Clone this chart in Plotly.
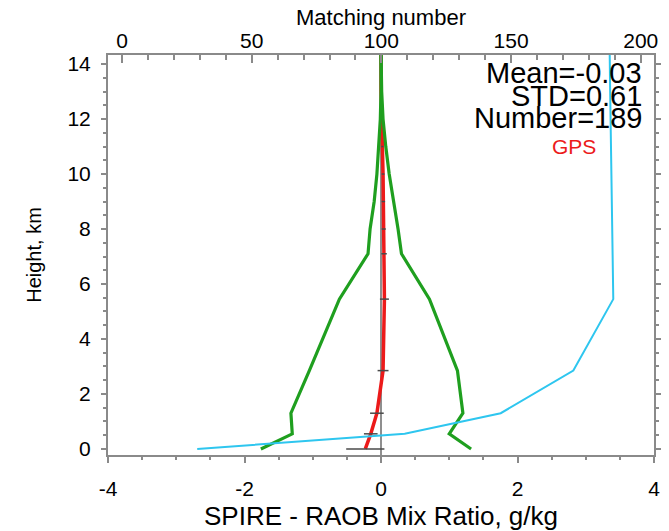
import plotly.graph_objects as go

# ---- data ----
height_km = [0, 0.55, 1.3, 2.85, 5.45, 7.1, 8, 9, 10, 11, 12, 13, 14.5]
mean_diff = [-0.23, -0.15, -0.06, 0.03, 0.05, 0.045, 0.04, 0.035, 0.03, 0.02, 0.01, 0.0, 0.0]
std_low = [-1.76, -1.30, -1.32, -1.05, -0.61, -0.19, -0.16, -0.10, -0.06, -0.03, -0.01, 0.0, 0.0]
std_high = [1.32, 1.00, 1.20, 1.12, 0.71, 0.30, 0.25, 0.18, 0.12, 0.07, 0.03, 0.01, 0.0]
std_err = [0.28, 0.10, 0.10, 0.08, 0.066, 0.04, 0.03, 0.025, 0.02, 0.015, 0.01, 0.005, 0.005]
match_num = [29, 109, 146, 174, 189.4, 189.2, 189.0, 188.9, 188.7, 188.5, 188.4, 188.2, 188.0]

x_tick_vals = [-4, -2, 0, 2, 4]
x_tick_text = ["-4", "-2", "0", "2", "4"]
top_tick_vals = [0, 50, 100, 150, 200]
y_tick_vals = [0, 2, 4, 6, 8, 10, 12, 14]

stat_lines = ["Mean=-0.03", "STD=0.61", "Number=189"]
source_label = "GPS"

FONT = "Liberation Sans, Arial, sans-serif"
AX = "#8a8a8a"
GREEN = "#1f9f1f"
RED = "#ec1a1a"
CYAN = "#2ec6ef"

fig = go.Figure()

fig.add_trace(go.Scatter(x=mean_diff, y=height_km, mode="lines",
                         line=dict(color=RED, width=3.5), showlegend=False))
fig.add_trace(go.Scatter(x=mean_diff, y=height_km, mode="markers",
                         marker=dict(size=1, opacity=0),
                         error_x=dict(type="data", array=std_err, color="#4a4a4a",
                                      thickness=1.5, width=0),
                         showlegend=False))
fig.add_trace(go.Scatter(x=std_low, y=height_km, mode="lines",
                         line=dict(color=GREEN, width=3.2), showlegend=False))
fig.add_trace(go.Scatter(x=std_high, y=height_km, mode="lines",
                         line=dict(color=GREEN, width=3.2), showlegend=False))
fig.add_trace(go.Scatter(x=match_num, y=height_km, mode="lines", xaxis="x2",
                         line=dict(color=CYAN, width=2), showlegend=False))

tickfont = dict(family=FONT, size=21, color="black")

fig.update_layout(
    width=669, height=531, autosize=False,
    margin=dict(l=108, r=15, t=55, b=76),
    paper_bgcolor="white", plot_bgcolor="white",
    font=dict(family=FONT, color="black"),
    xaxis=dict(
        automargin=False,
        range=[-4, 4], tickvals=x_tick_vals, ticktext=x_tick_text,
        ticks="outside", ticklen=6, tickwidth=1.5, tickcolor=AX,
        minor=dict(dtick=0.5, tick0=-4, ticks="outside", ticklen=3, tickwidth=1.5, tickcolor=AX),
        showline=True, linecolor=AX, linewidth=2, mirror=False,
        showgrid=False, zeroline=True, zerolinecolor="#8f8f8f", zerolinewidth=1.5,
        tickfont=tickfont, ticklabelstandoff=8,
        title=dict(text="SPIRE - RAOB Mix Ratio, g/kg",
                   font=dict(family=FONT, size=26, color="black"), standoff=8),
    ),
    xaxis2=dict(
        automargin=False,
        overlaying="x", side="top", anchor="y",
        range=[-5.4, 205.1], tickvals=top_tick_vals,
        ticks="inside", ticklen=8, tickwidth=1.5, tickcolor=AX,
        minor=dict(dtick=10, tick0=0, ticks="inside", ticklen=5, tickwidth=1.5, tickcolor=AX),
        showline=True, linecolor=AX, linewidth=2,
        showgrid=False, zeroline=False,
        tickfont=tickfont, ticklabelstandoff=-3,
    ),
    yaxis=dict(
        automargin=False,
        range=[-0.22, 14.33], tickvals=y_tick_vals,
        ticks="outside", ticklen=5, tickwidth=1.5, tickcolor=AX,
        minor=dict(dtick=0.5, tick0=0, ticks="outside", ticklen=3, tickwidth=1.5, tickcolor=AX),
        showline=True, linecolor=AX, linewidth=2, mirror="ticks",
        showgrid=False, zeroline=False,
        tickfont=tickfont, ticklabelstandoff=6,
        title=dict(text="Height, km",
                   font=dict(family=FONT, size=20, color="black"), standoff=20),
    ),
)

# title of the top (matching number) axis
fig.add_annotation(text="Matching number", xref="paper", yref="paper",
                   x=0.5, y=1.093, xanchor="center", yanchor="middle", showarrow=False,
                   font=dict(family=FONT, size=22, color="black"))

stat_y = [0.955, 0.8975, 0.8425]
for txt, yy in zip(stat_lines, stat_y):
    fig.add_annotation(text=txt, xref="paper", yref="paper", x=0.981, y=yy,
                       xanchor="right", yanchor="middle", showarrow=False,
                       font=dict(family=FONT, size=29, color="black"))
fig.add_annotation(text=source_label, xref="paper", yref="paper", x=0.853, y=0.7725,
                   xanchor="center", yanchor="middle", showarrow=False,
                   font=dict(family=FONT, size=21, color=RED))

# remove the default 8px page margin so the figure fills the window exactly
fig.write_html("out.html", config={"displayModeBar": False},
               post_script="document.body.style.margin='0px';")
